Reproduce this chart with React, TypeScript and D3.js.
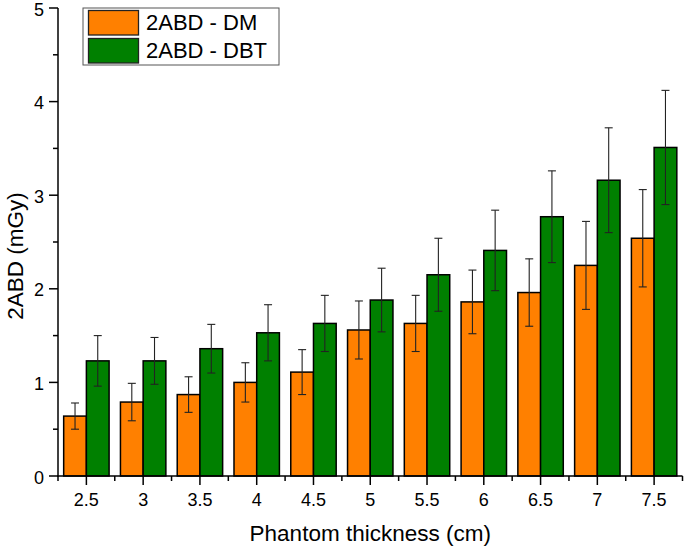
import React from "react";
import * as d3 from "d3";

const thickness = [2.5, 3, 3.5, 4, 4.5, 5, 5.5, 6, 6.5, 7, 7.5];
const dmValues = [0.64, 0.79, 0.87, 1.0, 1.11, 1.56, 1.63, 1.86, 1.96, 2.25, 2.54];
const dmErrors = [0.14, 0.2, 0.19, 0.21, 0.24, 0.31, 0.3, 0.34, 0.36, 0.47, 0.52];
const dbtValues = [1.23, 1.23, 1.36, 1.53, 1.63, 1.88, 2.15, 2.41, 2.77, 3.16, 3.51];
const dbtErrors = [0.27, 0.25, 0.26, 0.3, 0.3, 0.34, 0.39, 0.43, 0.49, 0.56, 0.61];
const yTicks = [0, 1, 2, 3, 4, 5];
const yMinorTicks = [0.5, 1.5, 2.5, 3.5, 4.5];
const xMinorTicks = [2.25, 2.75, 3.25, 3.75, 4.25, 4.75, 5.25, 5.75, 6.25, 6.75, 7.25, 7.75];
const seriesNames = ["2ABD - DM", "2ABD - DBT"];
const seriesColors = ["#FF8000", "#008000"];

const W = 685;
const H = 548;
const FONT = "'Liberation Sans', Arial, sans-serif";

export default function App() {
  const x = d3.scaleLinear().domain([2.25, 7.75]).range([58, 682.5]);
  const y = d3.scaleLinear().domain([0, 5]).range([476, 8]);
  const barW = 0.2;
  const capHalf = 4;

  const series = [
    { values: dmValues, errors: dmErrors, offset: -barW, color: seriesColors[0] },
    { values: dbtValues, errors: dbtErrors, offset: 0, color: seriesColors[1] },
  ];

  return (
    <svg
      width={W}
      height={H}
      style={{ position: "absolute", left: 0, top: 0, background: "#fff" }}
      fontFamily={FONT}
    >
      {/* bars */}
      {series.map((s, si) =>
        thickness.map((t, i) => {
          const x0 = x(t + s.offset);
          const x1 = x(t + s.offset + barW);
          return (
            <rect
              key={`b${si}-${i}`}
              x={x0}
              y={y(s.values[i])}
              width={x1 - x0}
              height={y(0) - y(s.values[i])}
              fill={s.color}
              stroke="#000"
              strokeWidth={1.5}
            />
          );
        })
      )}
      {/* error bars */}
      {series.map((s, si) =>
        thickness.map((t, i) => {
          const cx = x(t + s.offset + barW / 2);
          const top = y(s.values[i] + s.errors[i]);
          const bot = y(s.values[i] - s.errors[i]);
          return (
            <g key={`e${si}-${i}`} stroke="#222" strokeWidth={1.1}>
              <line x1={cx} x2={cx} y1={top} y2={bot} />
              <line x1={cx - capHalf} x2={cx + capHalf} y1={top} y2={top} />
              <line x1={cx - capHalf} x2={cx + capHalf} y1={bot} y2={bot} />
            </g>
          );
        })
      )}
      {/* axes */}
      <g stroke="#000" strokeWidth={1.5}>
        <line x1={x(2.25)} x2={x(2.25)} y1={y(5)} y2={y(0) + 0.75} />
        <line x1={x(2.25) - 0.75} x2={x(7.75)} y1={y(0)} y2={y(0)} />
        {yTicks.map((v) => (
          <line key={`yt${v}`} x1={x(2.25) - 9} x2={x(2.25)} y1={y(v)} y2={y(v)} />
        ))}
        {yMinorTicks.map((v) => (
          <line key={`ym${v}`} x1={x(2.25) - 5} x2={x(2.25)} y1={y(v)} y2={y(v)} />
        ))}
        {thickness.map((t) => (
          <line key={`xt${t}`} x1={x(t)} x2={x(t)} y1={y(0)} y2={y(0) + 9} />
        ))}
        {xMinorTicks.map((t) => (
          <line key={`xm${t}`} x1={x(t)} x2={x(t)} y1={y(0)} y2={y(0) + 5} />
        ))}
      </g>
      {/* tick labels */}
      {yTicks.map((v) => (
        <text key={`yl${v}`} x={44} y={y(v)} dy="0.42em" textAnchor="end" fontSize={18} fill="#000">
          {v}
        </text>
      ))}
      {thickness.map((t) => (
        <text key={`xl${t}`} x={x(t)} y={506} textAnchor="middle" fontSize={18} fill="#000">
          {t}
        </text>
      ))}
      {/* axis titles */}
      <text x={(x(2.25) + x(7.75)) / 2} y={541} textAnchor="middle" fontSize={22.5} fill="#000">
        Phantom thickness (cm)
      </text>
      <text
        transform={`translate(23, 256) rotate(-90)`}
        textAnchor="middle"
        fontSize={22.5}
        fill="#000"
      >
        2ABD (mGy)
      </text>
      {/* legend */}
      <rect x={83} y={8} width={196} height={57} fill="#fff" stroke="#555" strokeWidth={1} />
      {seriesNames.map((name, i) => (
        <g key={`lg${i}`}>
          <rect x={88.5} y={10.5 + i * 28} width={50} height={24.5} fill={seriesColors[i]} stroke="#222" strokeWidth={1.3} />
          <text x={146} y={30 + i * 28} fontSize={22} fill="#000">
            {name}
          </text>
        </g>
      ))}
    </svg>
  );
}
